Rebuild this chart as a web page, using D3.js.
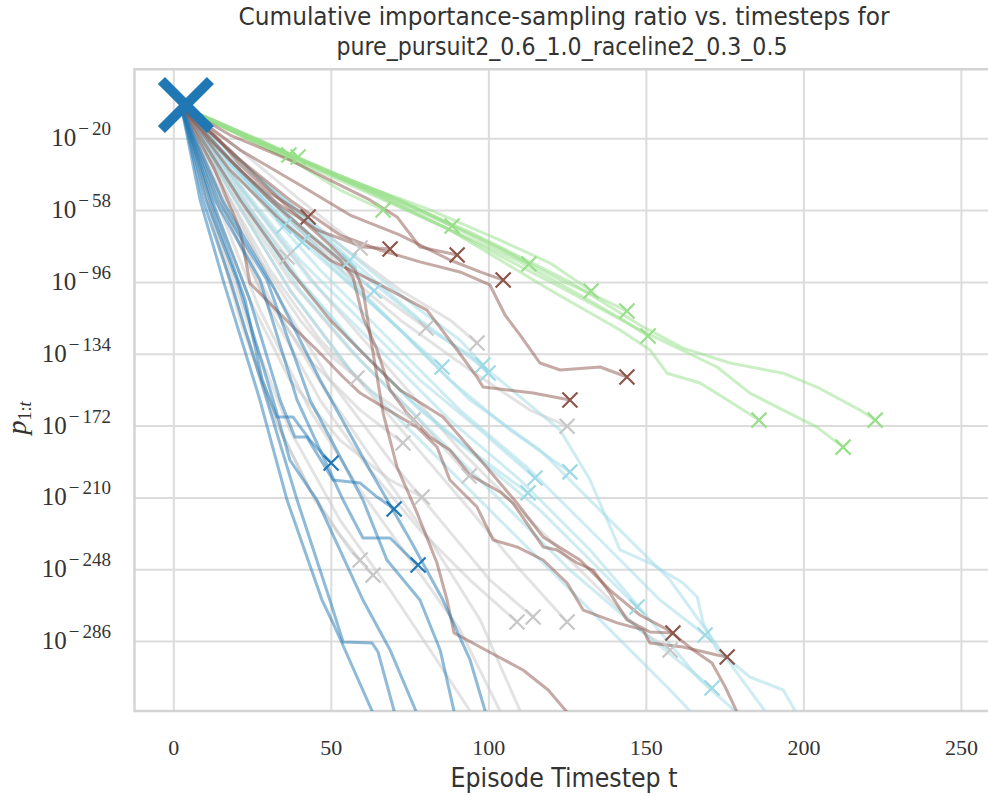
<!DOCTYPE html>
<html>
<head>
<meta charset="utf-8">
<script src="https://cdn.jsdelivr.net/npm/d3@7"></script>
<style>
  html, body { margin: 0; padding: 0; background: #ffffff; }
  svg { display: block; }
</style>
</head>
<body>
<svg id="chart" width="988" height="796"></svg>
<script>
// Axis ticks: timestep on x, log10 of the cumulative ratio on y
const xTicks = [0, 50, 100, 150, 200, 250];
const yTicks = [-20, -58, -96, -134, -172, -210, -248, -286];

// Start of every episode (large marker)
const startPoint = [4.0, -2.4];

// Each run: [timestep, log10 of cumulative importance-sampling ratio]
const grayRuns = [
  [[2.5,-3],[14.8,-31.5],[25.9,-60.6],[36.1,-82.8]],
  [[2.5,-3],[21.2,-26.2],[40.2,-52.6],[59.3,-78]],
  [[2.5,-3],[21.2,-36.8],[40.2,-68.5],[59.3,-95],[80.2,-120.4]],
  [[2.5,-3],[24.3,-36.8],[46.6,-68.5],[72,-100.3],[87.8,-116.1],[96.4,-128.3]],
  [[2.5,-3],[14.8,-47.4],[27.5,-84.4],[40.2,-116.1],[49.7,-134.7],[58.3,-146.8]],
  [[2.5,-3],[16.4,-47.4],[30.7,-89.7],[46.6,-126.7],[62.4,-153.2],[76.1,-169.1]],
  [[2.5,-3],[14.8,-52.6],[27.5,-100.3],[43.4,-137.4],[59.3,-163.8],[72.9,-181.2]],
  [[2.5,-3],[18,-47.4],[37,-95],[56.1,-132],[75.2,-163.8],[93.9,-198.7]],
  [[2.5,-3],[13.2,-57.9],[24.3,-105.6],[37,-147.9],[52.9,-179.7],[68.8,-200.8],[79,-209.8]],
  [[2.5,-3],[24.3,-42.1],[49.7,-84.4],[72,-116.1],[94.2,-142.6],[113.2,-163.8],[125,-172.3]],
  [[2.5,-3],[11.6,-57.9],[21.2,-116.1],[32.3,-169.1],[43.4,-206.1],[52.9,-229.9],[59.3,-243.1]],
  [[2.5,-3],[12.3,-60.6],[22.8,-121.4],[33.9,-174.4],[45,-211.4],[56.1,-237.8],[63.4,-251.1]],
  [[2.5,-3],[16.4,-57.9],[30.7,-110.9],[46.6,-158.5],[62.4,-195.5],[78.3,-227.3],[94.2,-253.7],[109.1,-275.9]],
  [[2.5,-3],[18,-52.6],[33.9,-105.6],[49.7,-147.9],[68.8,-190.2],[84.7,-222],[100.5,-253.7],[114.2,-273.3]],
  [[2.5,-3],[19.6,-52.6],[37,-100.3],[56.1,-142.6],[75.2,-179.7],[94.2,-216.7],[110.1,-248.4],[125,-275.9]],
  [[2.5,-3],[24.3,-52.6],[46.6,-100.3],[68.8,-142.6],[91,-184.9],[113.2,-222],[132.3,-253.7],[148.1,-280.1],[157.7,-290.7]],
  [[2.5,-3],[13.2,-63.2],[24.3,-121.4],[37,-174.4],[52.9,-222],[68.8,-259],[81.5,-290.7],[94.2,-323],[95.5,-327]],
  [[2.5,-3],[14.8,-57.9],[27.5,-110.9],[43.4,-163.8],[59.3,-206.1],[75.2,-243.1],[91,-280.1],[103.7,-323],[105,-327]],
  [[2.5,-3],[16.4,-55.3],[30.7,-105.6],[48.2,-153.2],[65.6,-195.5],[81.5,-232.5],[97.4,-274.8],[110.1,-323],[111.5,-327]]
];

const cyanRuns = [
  [[2.5,-3],[14.8,-26.2],[25.9,-47.4],[35.1,-66.4]],
  [[2.5,-3],[16.4,-28.8],[29.1,-52.6],[40.9,-74.9]],
  [[2.5,-3],[21.2,-31.5],[40.2,-60.6],[55.8,-84.9]],
  [[2.5,-3],[21.2,-36.8],[40.2,-65.9],[52.9,-84.4],[63.7,-100.8]],
  [[2.5,-3],[21.2,-39.4],[40.2,-73.9],[56.1,-97.6],[72,-121.4],[85.3,-141]],
  [[2.5,-3],[24.3,-36.8],[43.4,-63.2],[62.4,-89.7],[78.3,-110.9],[91,-126.7],[98.3,-139.9]],
  [[2.5,-3],[22.8,-39.4],[43.4,-71.2],[62.4,-95],[81.5,-121.4],[94.2,-134.7],[99.9,-144.2]],
  [[2.5,-3],[21.2,-44.7],[40.2,-84.4],[59.3,-116.1],[78.3,-147.9],[97.4,-174.4],[114.8,-199.7]],
  [[2.5,-3],[19.6,-47.4],[37,-89.7],[56.1,-126.7],[75.2,-158.5],[94.2,-184.9],[112.6,-207.6]],
  [[2.5,-3],[24.3,-42.1],[46.6,-79.1],[68.8,-116.1],[87.8,-147.9],[106.9,-174.4],[125.9,-196.5]],
  [[2.5,-3],[21.2,-50],[40.2,-95],[59.3,-132],[78.3,-163.8],[97.4,-190.2],[116.4,-216.7],[132.3,-243.1],[147.2,-268]],
  [[2.5,-3],[24.3,-47.4],[46.6,-89.7],[68.8,-126.7],[91,-163.8],[113.2,-195.5],[135.5,-232.5],[154.5,-264.3],[168.8,-282.8]],
  [[2.5,-3],[21.2,-52.6],[40.2,-100.3],[59.3,-137.4],[81.5,-174.4],[103.7,-211.4],[125.9,-248.4],[148.1,-280.1],[164,-301.3],[171,-310.8]],
  [[2.5,-3],[22.8,-50],[43.4,-95],[65.6,-132],[87.8,-169.1],[110.1,-200.8],[132.3,-237.8],[151.3,-274.8],[167.2,-306.6],[181,-327]],
  [[2.5,-3],[25.9,-47.4],[49.7,-87],[72,-121.4],[94.2,-158.5],[116.4,-184.9],[138.6,-222],[157.7,-253.7],[173.6,-290.7],[187.8,-323],[189.5,-327]],
  [[2.5,-3],[27.5,-42.1],[52.9,-79.1],[78.3,-116.1],[103.7,-147.9],[122.8,-174.4],[132.3,-200.8],[141.8,-237.8],[151.3,-244.7],[161.8,-255.3],[166.3,-262.7],[168.2,-276.4],[172.6,-290.7],[183,-305],[193.6,-311.9],[197.4,-323],[198.5,-327]],
  [[2.5,-3],[19.6,-52.6],[37,-100.3],[56.1,-142.6],[78.3,-179.7],[100.5,-216.7],[122.8,-253.7],[141.8,-285.4],[157.7,-311.9],[164,-323],[166,-327]]
];

const greenRuns = [
  [[2.5,-3],[14.8,-13],[27.5,-22],[36.7,-28.8]],
  [[2.5,-3],[16.4,-14.6],[29.1,-23.5],[39.6,-29.9]],
  [[2.5,-3],[21.2,-18.3],[40.2,-34.1],[52.9,-47.4],[66.6,-57.9]],
  [[2.5,-3],[24.3,-20.9],[46.6,-36.8],[65.6,-50],[78.3,-59],[88.5,-66.4]],
  [[2.5,-3],[27.5,-22],[49.7,-37.8],[72,-52.6],[94.2,-71.2],[112.9,-86.5]],
  [[2.5,-3],[30.7,-23.5],[56.1,-42.1],[81.5,-57.9],[103.7,-73.9],[119.6,-86],[132.6,-100.8]],
  [[2.5,-3],[27.5,-20.9],[52.9,-41],[78.3,-57.9],[103.7,-78],[122.8,-95],[135.5,-104.5],[144,-111.4]],
  [[2.5,-3],[33.9,-26.2],[59.3,-46.3],[84.7,-65.9],[110.1,-85.4],[129.1,-102.9],[141.8,-115.1],[150.7,-124.6]],
  [[2.5,-3],[30.7,-26.2],[56.1,-44.7],[87.8,-68.5],[119.6,-100.3],[141.8,-121.4],[151.3,-132],[156.7,-144.3],[167.2,-149.5],[174.5,-157],[185.9,-169.1]],
  [[2.5,-3],[33.9,-27.2],[62.4,-47.4],[91,-71.2],[122.8,-98.7],[148.1,-121.4],[172.6,-141],[183,-154.8],[193.6,-163.8],[204.3,-172.8],[212.6,-183.4]],
  [[2.5,-3],[37,-28.8],[65.6,-48.4],[94.2,-69.6],[125.9,-96],[148.1,-118.8],[161.8,-131],[176.7,-138.9],[193.6,-144.3],[204.3,-151.6],[218,-163.8],[222.8,-169.1]]
];

const brownRuns = [
  [[2.5,-3],[13.2,-18.3],[21.2,-34.1],[30.7,-48.9],[42.8,-61.6]],
  [[2.5,-3],[11.6,-20.9],[21.2,-36.8],[32.9,-54.2],[45.6,-68.5],[60.2,-77.5],[68.8,-78.6]],
  [[2.5,-3],[18,-18.3],[37,-31.5],[49.7,-42.1],[62.4,-52.6],[71,-61.6],[78.3,-77.5],[90.1,-81.7]],
  [[2.5,-3],[21.2,-26.2],[40.2,-44.7],[56.1,-60.6],[72,-71.2],[87.8,-84.4],[97.4,-90.7],[104.7,-95]],
  [[2.5,-3],[21.2,-31.5],[37,-52.6],[52.9,-71.2],[65.6,-79.1],[78.3,-85.4],[91,-90.7],[100.5,-97.6],[105.3,-113.5],[110.1,-124.1],[116.4,-138.9],[122.8,-142.6],[135.5,-141],[144,-146.3]],
  [[2.5,-3],[18,-36.8],[33.9,-63.2],[49.7,-84.4],[64.7,-96.6],[80.5,-110.9],[90.1,-132],[96.4,-146.3],[98.3,-151.6],[114.2,-154.8],[125.9,-158.5]],
  [[2.5,-3],[18,-31.5],[30.7,-52.6],[43.4,-71.2],[52.9,-84.4],[57,-93.4],[60.2,-114.6],[64.7,-132],[68.8,-153.2],[74.2,-165.4],[81.5,-178.1],[87.8,-184.9],[94.2,-198.1],[103.7,-207.1],[107.8,-213],[117.4,-236.2],[121.8,-237.8],[128.2,-244.7],[133.2,-248.4],[138.6,-260.6],[144,-274.8],[151.3,-281.2],[158.6,-281.7]],
  [[2.5,-3],[13.2,-36.8],[21.2,-68.5],[24.3,-96.6],[38,-119.8],[45.6,-132],[53.9,-146.3],[59.3,-154.8],[66.6,-162.2],[77.4,-172.8],[83.7,-183.3],[87.8,-200.8],[96.4,-215.1],[101.5,-232.5],[109.1,-236.2],[117.4,-243.1],[125,-255.3],[130.1,-269.6],[140.9,-276.4],[149.1,-280.1],[151.3,-287],[161.8,-289.1],[172.6,-293.4],[175.8,-294.4]],
  [[2.5,-3],[18,-26.2],[33.9,-52.6],[49.7,-76.5],[57.7,-89.7],[60.2,-100.3],[63.1,-130.4],[66.6,-165.4],[71,-193.9],[77.4,-218.3],[83.7,-244.7],[86.9,-264.3],[89.1,-281.7],[100.9,-292.3],[111,-301.3],[119,-311.9],[126.2,-326]],
  [[2.5,-3],[21.2,-52.6],[37,-89.7],[49.7,-116.1],[62.4,-137.4],[72,-153.2],[85.6,-167.5],[98.3,-191.8],[109.1,-213],[117.4,-231],[129.1,-243.1],[138.6,-259],[148.1,-272.2],[157,-280.1],[165,-290.7],[171,-297.6],[175.2,-310.3],[179.9,-327]]
];

const blueRuns = [
  [[2.5,-3],[8.5,-52.6],[15.8,-95],[27.5,-158.5],[36.1,-211.4],[47.2,-264.3],[51,-277.5],[63.1,-323],[64.5,-327]],
  [[2.5,-3],[9.4,-52.6],[18,-95],[29.7,-158.5],[39.3,-211.4],[49.7,-264.3],[53.9,-286.5],[63.1,-287],[65,-291.8],[70.1,-323],[70.8,-327]],
  [[2.5,-3],[10.4,-52.6],[20.2,-95],[31.7,-158.5],[37,-190.2],[45.6,-211.4],[60.2,-264.3],[68.8,-290.7],[77,-323],[77.6,-327]],
  [[2.5,-3],[11.6,-52.6],[22.8,-105.6],[28.2,-147.9],[32.9,-167.5],[38,-167.5],[43.4,-179.7],[50.1,-191.8]],
  [[2.5,-3],[12.3,-52.6],[24.3,-105.6],[33.9,-158.5],[38.6,-178.1],[42.4,-178.1],[50.7,-200.8],[59.3,-202.4],[64.7,-209.8],[70.1,-216.1]],
  [[2.5,-3],[13.2,-52.6],[27.5,-95],[39.3,-158.5],[53.9,-211.4],[60.2,-231.5],[68.8,-231.5],[73.6,-239.4],[77.7,-245.8]],
  [[2.5,-3],[14.2,-52.6],[29.7,-95],[43.4,-158.5],[60.2,-211.4],[67.8,-243.1],[78.3,-264.3],[84.7,-290.7],[89.1,-323],[89.8,-327]],
  [[2.5,-3],[15.5,-52.6],[32.3,-100.3],[46.6,-147.9],[62.4,-195.5],[75.2,-232.5],[85.6,-264.3],[94.2,-296],[99,-323],[99.6,-327]]
];

const groups = [
  { runs: grayRuns,  color: "#c7c7c7" },
  { runs: cyanRuns,  color: "#9edae5" },
  { runs: greenRuns, color: "#98df8a" },
  { runs: brownRuns, color: "#8c564b" },
  { runs: blueRuns,  color: "#1f77b4" }
];

const svg = d3.select("#chart");
const plot = { left: 134.5, right: 988.3, top: 69.3, bottom: 711 };

const x = d3.scaleLinear().domain([-12.32, 258.7]).range([plot.left, plot.right]);
const y = d3.scaleLinear().domain([-323.0, 16.5]).range([plot.bottom, plot.top]);

const textColor = "#333333";
const gridColor = "#dcdcdc";
const serifFont = "'Liberation Serif', 'DejaVu Serif', serif";

svg.append("defs").append("clipPath").attr("id", "plotClip")
  .append("rect")
  .attr("x", plot.left).attr("y", plot.top)
  .attr("width", plot.right - plot.left).attr("height", plot.bottom - plot.top);

// Vertical grid + x tick labels
const xAxis = svg.append("g")
  .attr("transform", `translate(0,${plot.bottom})`)
  .call(d3.axisBottom(x).tickValues(xTicks).tickSize(-(plot.bottom - plot.top)).tickFormat(d3.format("d")));
xAxis.select(".domain").remove();
xAxis.selectAll(".tick line").attr("stroke", gridColor).attr("stroke-width", 2);
xAxis.selectAll(".tick text")
  .attr("y", 44).attr("dy", null)
  .attr("fill", textColor)
  .style("font-family", serifFont)
  .style("font-size", "22px");

// Horizontal grid
const yAxis = svg.append("g")
  .attr("transform", `translate(${plot.left},0)`)
  .call(d3.axisLeft(y).tickValues(yTicks).tickSize(-(plot.right - plot.left)).tickFormat(""));
yAxis.select(".domain").remove();
yAxis.selectAll(".tick line").attr("stroke", gridColor).attr("stroke-width", 2);

// y tick labels as powers of ten
const yLabels = svg.append("g").attr("fill", textColor).style("font-family", serifFont);
yTicks.forEach(v => {
  const t = yLabels.append("text")
    .attr("x", 111).attr("y", y(v) + 8)
    .attr("text-anchor", "end");
  t.append("tspan").style("font-size", "25px").text("10");
  t.append("tspan").attr("dx", 2).attr("dy", -11).style("font-size", "19px").text("\u2212");
  t.append("tspan").attr("dx", 3).style("font-size", "19px").text(Math.abs(v));
});

// Spines (left, top, bottom)
const spine = svg.append("g").attr("stroke", "#d4d4d4").attr("stroke-width", 2.5).attr("fill", "none");
spine.append("line").attr("x1", plot.left).attr("x2", plot.left).attr("y1", plot.top - 1.25).attr("y2", plot.bottom + 1.25);
spine.append("line").attr("x1", plot.left).attr("x2", plot.right).attr("y1", plot.top).attr("y2", plot.top);
spine.append("line").attr("x1", plot.left).attr("x2", plot.right).attr("y1", plot.bottom).attr("y2", plot.bottom);

// Runs
const line = d3.line().x(d => x(d[0])).y(d => y(d[1]));
const lines = svg.append("g").attr("clip-path", "url(#plotClip)");
groups.forEach(g => {
  lines.append("g")
    .selectAll("path")
    .data(g.runs)
    .join("path")
    .attr("d", line)
    .attr("fill", "none")
    .attr("stroke", g.color)
    .attr("stroke-width", 3)
    .attr("stroke-opacity", 0.5)
    .attr("stroke-linejoin", "round");
});

// End-of-episode markers (only for runs that end inside the axes)
const cross = h => `M${-h},${-h}L${h},${h}M${-h},${h}L${h},${-h}`;
const markers = svg.append("g").attr("clip-path", "url(#plotClip)");
groups.forEach(g => {
  const ends = g.runs.map(r => r[r.length - 1]).filter(p => p[1] >= y.domain()[0]);
  markers.append("g")
    .selectAll("path")
    .data(ends)
    .join("path")
    .attr("transform", d => `translate(${x(d[0])},${y(d[1])})`)
    .attr("d", cross(7.5))
    .attr("fill", "none")
    .attr("stroke", g.color)
    .attr("stroke-width", 2.2);
});

// Start marker
svg.append("path")
  .attr("transform", `translate(${x(startPoint[0])},${y(startPoint[1])})`)
  .attr("d", cross(24.5))
  .attr("fill", "none")
  .attr("stroke", "#1f77b4")
  .attr("stroke-width", 10);

// Title
const sansFont = "'Liberation Sans Narrow', 'DejaVu Sans Condensed', 'Liberation Sans', sans-serif";
svg.append("text")
  .attr("x", 564).attr("y", 25)
  .attr("text-anchor", "middle")
  .attr("textLength", 651).attr("lengthAdjust", "spacingAndGlyphs")
  .attr("fill", textColor)
  .style("font-family", sansFont).style("font-size", "25px")
  .text("Cumulative importance-sampling ratio vs. timesteps for");
svg.append("text")
  .attr("x", 562).attr("y", 55)
  .attr("text-anchor", "middle")
  .attr("textLength", 451).attr("lengthAdjust", "spacingAndGlyphs")
  .attr("fill", textColor)
  .style("font-family", sansFont).style("font-size", "25px")
  .text("pure_pursuit2_0.6_1.0_raceline2_0.3_0.5");

// Axis titles
svg.append("text")
  .attr("x", 564).attr("y", 787)
  .attr("text-anchor", "middle")
  .attr("textLength", 227).attr("lengthAdjust", "spacingAndGlyphs")
  .attr("fill", textColor)
  .style("font-family", sansFont).style("font-size", "26px")
  .text("Episode Timestep t");

const yTitle = svg.append("text")
  .attr("transform", "translate(26,418) rotate(-90)")
  .attr("text-anchor", "middle")
  .attr("fill", textColor)
  .style("font-family", serifFont);
yTitle.append("tspan").style("font-style", "italic").style("font-size", "28px").text("p");
yTitle.append("tspan").attr("dy", 5).style("font-size", "18px").text("1:");
yTitle.append("tspan").style("font-style", "italic").style("font-size", "18px").text("t");
</script>
</body>
</html>
